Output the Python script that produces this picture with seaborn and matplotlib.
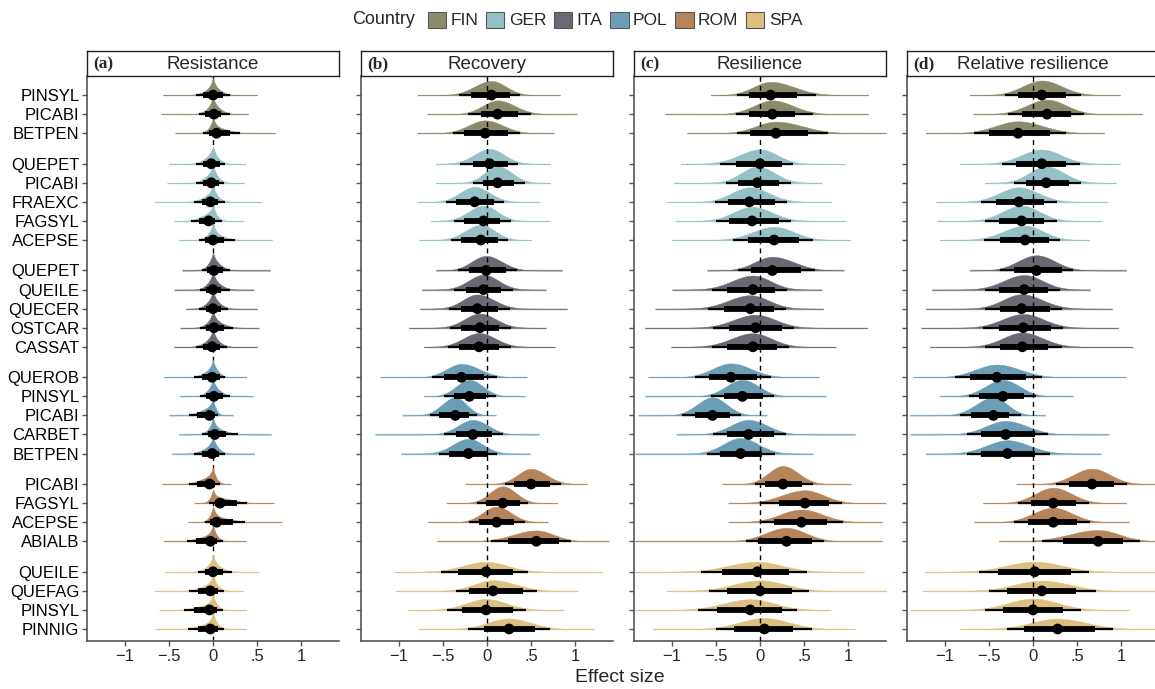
import numpy as np
import pandas as pd
import matplotlib
matplotlib.use("Agg")
import matplotlib.pyplot as plt
import seaborn as sns
from matplotlib.patches import Patch

countries = ["FIN", "GER", "ITA", "POL", "ROM", "SPA"]
palette = ["#8B8A6A", "#95C0C6", "#6A6873", "#6C9DB7", "#B5845A", "#DDBF80"]
group_sizes = [3, 5, 5, 5, 4, 4]
species = ["PINSYL", "PICABI", "BETPEN",
           "QUEPET", "PICABI", "FRAEXC", "FAGSYL", "ACEPSE",
           "QUEPET", "QUEILE", "QUECER", "OSTCAR", "CASSAT",
           "QUEROB", "PINSYL", "PICABI", "CARBET", "BETPEN",
           "PICABI", "FAGSYL", "ACEPSE", "ABIALB",
           "QUEILE", "QUEFAG", "PINSYL", "PINNIG"]

panel_titles = ["Resistance", "Recovery", "Resilience", "Relative resilience"]
panel_tags = ["(a)", "(b)", "(c)", "(d)"]

# (a) resistance
res_med = [0.00, 0.01, 0.04, -0.02, -0.02, -0.03, -0.05, 0.00, 0.01, 0.00, 0.00, 0.01, -0.01,
           -0.01, 0.01, -0.04, 0.02, -0.01, -0.04, 0.08, 0.04, -0.03, 0.00, -0.03, -0.04, -0.03]
res_lo66 = [-0.11, -0.09, -0.04, -0.11, -0.11, -0.13, -0.16, -0.09, -0.07, -0.08, -0.08, -0.08, -0.11,
            -0.12, -0.08, -0.18, -0.06, -0.13, -0.18, 0.02, -0.03, -0.19, -0.09, -0.17, -0.21, -0.17]
res_hi66 = [0.11, 0.09, 0.19, 0.08, 0.07, 0.06, 0.02, 0.13, 0.11, 0.09, 0.09, 0.12, 0.08,
            0.08, 0.11, 0.02, 0.15, 0.07, 0.02, 0.27, 0.23, 0.04, 0.11, 0.06, 0.04, 0.06]
res_lo95 = [-0.19, -0.16, -0.11, -0.19, -0.19, -0.22, -0.25, -0.16, -0.13, -0.15, -0.16, -0.15, -0.19,
            -0.21, -0.15, -0.27, -0.13, -0.22, -0.27, -0.05, -0.09, -0.30, -0.17, -0.27, -0.33, -0.28]
res_hi95 = [0.19, 0.19, 0.31, 0.14, 0.13, 0.14, 0.10, 0.25, 0.19, 0.19, 0.17, 0.23, 0.16,
            0.14, 0.19, 0.06, 0.28, 0.14, 0.08, 0.39, 0.36, 0.11, 0.21, 0.13, 0.11, 0.13]
res_tlo = [-0.57, -0.59, -0.43, -0.50, -0.52, -0.66, -0.44, -0.39, -0.35, -0.44, -0.31, -0.37, -0.44,
           -0.56, -0.38, -0.50, -0.39, -0.47, -0.58, -0.21, -0.28, -0.56, -0.54, -0.66, -0.61, -0.66]
res_thi = [0.50, 0.40, 0.70, 0.37, 0.35, 0.55, 0.35, 0.67, 0.65, 0.46, 0.50, 0.52, 0.50,
           0.38, 0.45, 0.23, 0.66, 0.47, 0.20, 0.69, 0.78, 0.37, 0.52, 0.34, 0.38, 0.38]

# (b) recovery
rec_med = [0.05, 0.12, -0.02, 0.03, 0.12, -0.14, -0.04, -0.07, -0.01, -0.04, -0.11, -0.08, -0.09,
           -0.29, -0.20, -0.36, -0.16, -0.21, 0.50, 0.18, 0.11, 0.56, -0.01, 0.07, -0.01, 0.25]
rec_lo66 = [-0.18, -0.07, -0.26, -0.16, -0.05, -0.35, -0.26, -0.29, -0.20, -0.24, -0.30, -0.30, -0.32,
            -0.49, -0.37, -0.54, -0.35, -0.43, 0.31, -0.01, -0.09, 0.24, -0.33, -0.20, -0.28, -0.03]
rec_hi66 = [0.26, 0.35, 0.24, 0.24, 0.31, 0.08, 0.15, 0.12, 0.22, 0.16, 0.12, 0.14, 0.14,
            -0.03, -0.01, -0.20, 0.06, 0.01, 0.71, 0.37, 0.31, 0.82, 0.29, 0.41, 0.29, 0.54]
rec_lo95 = [-0.32, -0.21, -0.39, -0.31, -0.16, -0.46, -0.37, -0.41, -0.33, -0.37, -0.43, -0.42, -0.44,
            -0.62, -0.49, -0.65, -0.49, -0.55, 0.20, -0.11, -0.20, 0.05, -0.52, -0.35, -0.45, -0.21]
rec_hi95 = [0.37, 0.50, 0.37, 0.35, 0.43, 0.19, 0.27, 0.24, 0.34, 0.29, 0.26, 0.27, 0.27,
            0.11, 0.10, -0.11, 0.18, 0.11, 0.84, 0.47, 0.43, 0.95, 0.46, 0.57, 0.44, 0.72]
rec_tlo = [-0.79, -0.68, -0.79, -0.58, -0.58, -0.78, -0.64, -0.77, -0.58, -0.74, -0.76, -0.89, -0.72,
           -1.21, -0.72, -0.96, -1.27, -0.98, -0.25, -0.46, -0.67, -0.57, -1.05, -1.04, -0.90, -0.78]
rec_thi = [0.83, 1.02, 0.76, 0.72, 0.72, 0.60, 0.71, 0.50, 0.85, 0.67, 0.91, 0.67, 0.77,
           0.45, 0.43, 0.10, 0.59, 0.49, 1.14, 0.80, 0.69, 1.38, 1.30, 1.03, 0.87, 1.21]

# (c) resilience
rsl_med = [0.12, 0.14, 0.18, 0.00, -0.03, -0.12, -0.09, 0.16, 0.14, -0.08, -0.11, -0.05, -0.08,
           -0.33, -0.20, -0.54, -0.13, -0.22, 0.26, 0.51, 0.47, 0.30, -0.03, 0.00, -0.11, 0.05]
rsl_lo66 = [-0.12, -0.12, -0.11, -0.27, -0.25, -0.36, -0.35, -0.14, -0.10, -0.38, -0.41, -0.35, -0.38,
            -0.58, -0.41, -0.74, -0.38, -0.45, 0.06, 0.21, 0.16, -0.02, -0.43, -0.38, -0.49, -0.30]
rsl_hi66 = [0.42, 0.40, 0.55, 0.25, 0.21, 0.17, 0.21, 0.44, 0.46, 0.17, 0.16, 0.25, 0.19,
            -0.03, 0.03, -0.34, 0.16, 0.02, 0.48, 0.78, 0.76, 0.59, 0.33, 0.36, 0.25, 0.38]
rsl_lo95 = [-0.26, -0.27, -0.26, -0.45, -0.39, -0.51, -0.50, -0.31, -0.25, -0.54, -0.59, -0.53, -0.55,
            -0.74, -0.56, -0.88, -0.53, -0.60, -0.06, 0.00, 0.00, -0.16, -0.67, -0.58, -0.70, -0.50]
rsl_hi95 = [0.64, 0.60, 0.77, 0.38, 0.35, 0.31, 0.35, 0.60, 0.62, 0.31, 0.30, 0.39, 0.33,
            0.12, 0.16, -0.22, 0.29, 0.17, 0.60, 0.93, 0.94, 0.73, 0.53, 0.56, 0.42, 0.59]
rsl_tlo = [-0.56, -1.08, -0.83, -0.90, -0.98, -1.06, -0.96, -1.00, -0.60, -1.00, -1.19, -1.31, -1.01,
           -1.27, -1.31, -1.38, -0.95, -1.42, -0.43, -0.36, -0.36, -1.42, -1.42, -1.06, -1.42, -1.22]
rsl_thi = [1.23, 1.23, 1.44, 0.96, 0.70, 0.81, 0.97, 1.02, 0.95, 0.70, 0.72, 1.22, 0.86,
           0.67, 0.75, 0.08, 1.08, 0.60, 1.03, 1.43, 1.39, 1.39, 1.18, 1.44, 0.80, 1.08]

# (d) relative resilience
rel_med = [0.10, 0.16, -0.17, 0.10, 0.15, -0.16, -0.13, -0.09, 0.04, -0.10, -0.13, -0.11, -0.12,
           -0.41, -0.34, -0.45, -0.31, -0.29, 0.67, 0.23, 0.23, 0.74, 0.02, 0.10, 0.00, 0.28]
rel_lo66 = [-0.17, -0.13, -0.50, -0.19, -0.08, -0.42, -0.39, -0.38, -0.21, -0.39, -0.38, -0.39, -0.38,
            -0.72, -0.61, -0.70, -0.59, -0.59, 0.41, -0.02, -0.06, 0.34, -0.40, -0.29, -0.34, -0.10]
rel_hi66 = [0.38, 0.43, 0.19, 0.38, 0.41, 0.12, 0.13, 0.18, 0.33, 0.17, 0.19, 0.20, 0.17,
            -0.08, -0.10, -0.27, 0.02, 0.02, 0.92, 0.49, 0.50, 1.02, 0.43, 0.49, 0.34, 0.70]
rel_lo95 = [-0.32, -0.28, -0.67, -0.35, -0.22, -0.59, -0.55, -0.56, -0.37, -0.55, -0.54, -0.57, -0.55,
            -0.88, -0.73, -0.83, -0.75, -0.75, 0.26, -0.17, -0.21, 0.10, -0.61, -0.50, -0.55, -0.30]
rel_hi95 = [0.54, 0.58, 0.38, 0.53, 0.54, 0.27, 0.27, 0.31, 0.45, 0.31, 0.33, 0.34, 0.33,
            0.10, 0.03, -0.14, 0.17, 0.19, 1.07, 0.64, 0.65, 1.21, 0.63, 0.72, 0.55, 0.91]
rel_tlo = [-0.72, -0.68, -1.22, -0.83, -0.55, -1.10, -1.09, -1.06, -0.72, -1.15, -1.22, -1.27, -1.17,
           -1.36, -1.06, -1.40, -1.40, -1.22, -0.19, -0.57, -0.67, -0.39, -1.23, -1.25, -1.39, -0.83]
rel_thi = [0.99, 1.24, 0.81, 0.99, 0.94, 0.85, 0.77, 0.64, 1.06, 0.65, 0.90, 0.97, 1.13,
           1.05, 0.45, 0.14, 0.86, 0.77, 1.45, 1.06, 1.09, 1.45, 1.45, 1.45, 1.09, 1.45]

panels = [
    (res_med, res_lo66, res_hi66, res_lo95, res_hi95, res_tlo, res_thi),
    (rec_med, rec_lo66, rec_hi66, rec_lo95, rec_hi95, rec_tlo, rec_thi),
    (rsl_med, rsl_lo66, rsl_hi66, rsl_lo95, rsl_hi95, rsl_tlo, rsl_thi),
    (rel_med, rel_lo66, rel_hi66, rel_lo95, rel_hi95, rel_tlo, rel_thi),
]

# row positions (top row = 0), with extra space between countries
country = []
ypos = []
k = 0
for g, n in enumerate(group_sizes):
    for j in range(n):
        country.append(countries[g])
        ypos.append(k + 0.6 * g)
        k += 1
ypos = np.array(ypos)
colmap = dict(zip(countries, palette))

sns.set_theme(style="ticks")
plt.rcParams["font.family"] = ["Liberation Sans", "DejaVu Sans"]

W, H = 1155, 689
fig = plt.figure(figsize=(W / 100, H / 100), dpi=100)

lefts = [87, 361, 634, 907]
pw = 252
ax_bot = 1 - 641 / H
ax_h = (641 - 76) / H


def slab(x, med, lo, hi, spiky):
    sl = max((med - lo) / 1.96, 1e-3)
    sr = max((hi - med) / 1.96, 1e-3)
    s = np.where(x < med, sl, sr)
    d = 2 / (np.sqrt(2 * np.pi) * (sl + sr)) * np.exp(-0.5 * ((x - med) / s) ** 2)
    if spiky:
        # resistance posteriors: sharp spike at zero on top of a broader shoulder
        b = 0.035
        d = 0.62 * d + 0.38 * np.exp(-np.abs(x) / b) / (2 * b)
    return d


for p, (med, lo66, hi66, lo95, hi95, tlo, thi) in enumerate(panels):
    ax = fig.add_axes([lefts[p] / W, ax_bot, pw / W, ax_h])
    df = pd.DataFrame({"species": species, "country": country, "y": ypos,
                       "med": med, "lo66": lo66, "hi66": hi66,
                       "lo95": lo95, "hi95": hi95, "tlo": tlo, "thi": thi})

    curves = []
    for r in df.itertuples():
        x = np.sort(np.append(np.linspace(r.tlo, r.thi, 900), 0.0))
        curves.append((x, slab(x, r.med, r.lo95, r.hi95, p == 0)))
    scale = 0.95 / max(c[1].max() for c in curves)

    for r, (x, d) in zip(df.itertuples(), curves):
        c = colmap[r.country]
        ax.fill_between(x, r.y, r.y - d * scale, color=c, lw=0.3, edgecolor=c, zorder=2)
        ax.hlines(r.y, r.tlo, r.thi, color=c, lw=1.0, alpha=0.6, zorder=2)

    # in the resistance panel the spikes sit on zero and hide the reference line
    ax.axvline(0, color="black", lw=1.0, ls=(0, (3.5, 3)), zorder=1 if p == 0 else 3)
    ax.hlines(df["y"], df["lo95"], df["hi95"], color="black", lw=1.6, zorder=4)
    ax.hlines(df["y"], df["lo66"], df["hi66"], color="black", lw=4.2, zorder=5)
    sns.scatterplot(data=df, x="med", y="y", color="black", s=60, edgecolor="none",
                    zorder=6, ax=ax, legend=False)

    ax.set_xlim(-1.43, 1.43)
    ax.set_ylim(28.63, -1.0)
    ax.set_xticks([-1, -0.5, 0, 0.5, 1])
    ax.set_xticklabels(["\u22121", "\u2212.5", "0", ".5", "1"], fontsize=12)
    ax.set_yticks(ypos)
    if p == 0:
        ax.set_yticklabels(species, fontsize=12, color="black")
    else:
        ax.set_yticklabels([])
    ax.set_xlabel("")
    ax.set_ylabel("")
    ax.tick_params(axis="both", length=3.5, width=1.0, color="#555555", pad=2)
    for side in ["top", "right"]:
        ax.spines[side].set_visible(False)
    for side in ["left", "bottom"]:
        ax.spines[side].set_color("#555555")
        ax.spines[side].set_linewidth(1.2)
    ax.set_facecolor("white")

    st = fig.add_axes([lefts[p] / W, 1 - 76 / H, pw / W, 25 / H])
    st.set_xticks([])
    st.set_yticks([])
    st.set_facecolor("white")
    for s in st.spines.values():
        s.set_visible(True)
        s.set_color("#222222")
        s.set_linewidth(1.0)
    st.text(0.5, 0.45, panel_titles[p], ha="center", va="center", fontsize=13.5,
            transform=st.transAxes)
    st.text(0.025, 0.45, panel_tags[p], ha="left", va="center", fontsize=12.5,
            fontweight="bold", family=["Liberation Serif", "DejaVu Serif"],
            transform=st.transAxes)

fig.text(0.537, 0.017, "Effect size", ha="center", va="center", fontsize=14)

fig.text(352 / W, 1 - 20 / H, "Country", ha="left", va="center", fontsize=13)
handles = [Patch(facecolor=c, edgecolor="#555555", linewidth=0.8) for c in palette]
fig.legend(handles, countries, loc="center left", bbox_to_anchor=(428 / W, 1 - 20 / H),
           ncol=6, frameon=False, fontsize=12.5, handlelength=1.05, handleheight=1.05,
           handletextpad=0.25, columnspacing=0.45, borderaxespad=0, borderpad=0)

fig.savefig("out.png", dpi=100)
